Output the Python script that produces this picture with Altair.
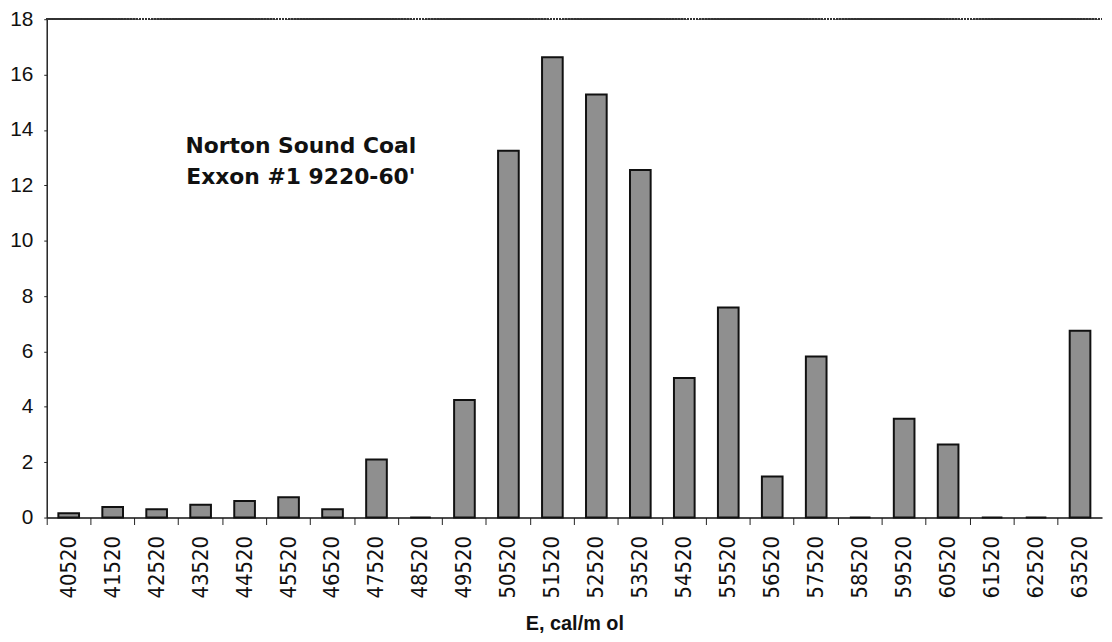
import altair as alt
import pandas as pd

categories = [str(v) for v in range(40520, 64520, 1000)]
values = [0.16, 0.38, 0.30, 0.46, 0.60, 0.73, 0.30, 2.1, 0.0, 4.25,
          13.25, 16.63, 15.28, 12.55, 5.04, 7.59, 1.48, 5.82, 0.0, 3.57,
          2.64, 0.0, 0.0, 6.75]
y_ticks = list(range(0, 19, 2))
annotation = ["Norton Sound Coal", "Exxon #1 9220-60'"]
x_title = "E, cal/m ol"

df = pd.DataFrame({"E": categories, "v": values})

W, H = 1063, 502
FONT = "Liberation Sans"
NARROW = "DejaVu Sans Condensed, Liberation Sans"

x_enc = alt.X("E:N", sort=categories,
              scale=alt.Scale(paddingInner=0, paddingOuter=0),
              axis=alt.Axis(title=x_title, labelAngle=-90, bandPosition=0,
                            labelFont=NARROW, labelFontSize=22, labelColor="#111",
                            labelPadding=11, tickSize=7, tickColor="#222",
                            domainColor="#111", domainWidth=1.6,
                            titleFont=FONT, titleFontSize=20, titleFontWeight="bold",
                            titleColor="#111", titlePadding=16))
y_enc = alt.Y("v:Q", scale=alt.Scale(domain=[0, 18], nice=False),
              axis=alt.Axis(title=None, values=y_ticks, grid=False,
                            labelFont=FONT, labelFontSize=21, labelColor="#111",
                            labelPadding=11, tickSize=3, tickColor="#222",
                            domainColor="#222", domainWidth=1.5))

bars = alt.Chart(df).mark_bar(width=alt.RelativeBandSize(0.47), fill="#8f8f8f",
                              stroke="#111", strokeWidth=2).encode(x=x_enc, y=y_enc)

top = alt.Chart(df).mark_rule(color="#333", strokeWidth=1.2, strokeDash=[2, 1]).encode(
    x=alt.value(0), x2=alt.value(W), y=alt.value(0))

ann = alt.Chart(pd.DataFrame({"t": annotation, "i": [0, 1]})).mark_text(
    font="DejaVu Sans", fontSize=22, fontWeight="bold", color="#111", align="center",
    baseline="middle").encode(
    text="t:N", x=alt.value(256),
    y=alt.Y("i:Q", scale=alt.Scale(domain=[0, 1], range=[128, 159]), axis=None))

chart = alt.layer(bars, top, ann).resolve_scale(y="independent").properties(
    width=W, height=H,
    autosize=alt.AutoSizeParams(type="none"),
    padding={"left": 39, "top": 9, "right": 2, "bottom": 115},
).configure_view(stroke=None)

chart.save("out.html", embed_options={"renderer": "svg", "actions": False})
